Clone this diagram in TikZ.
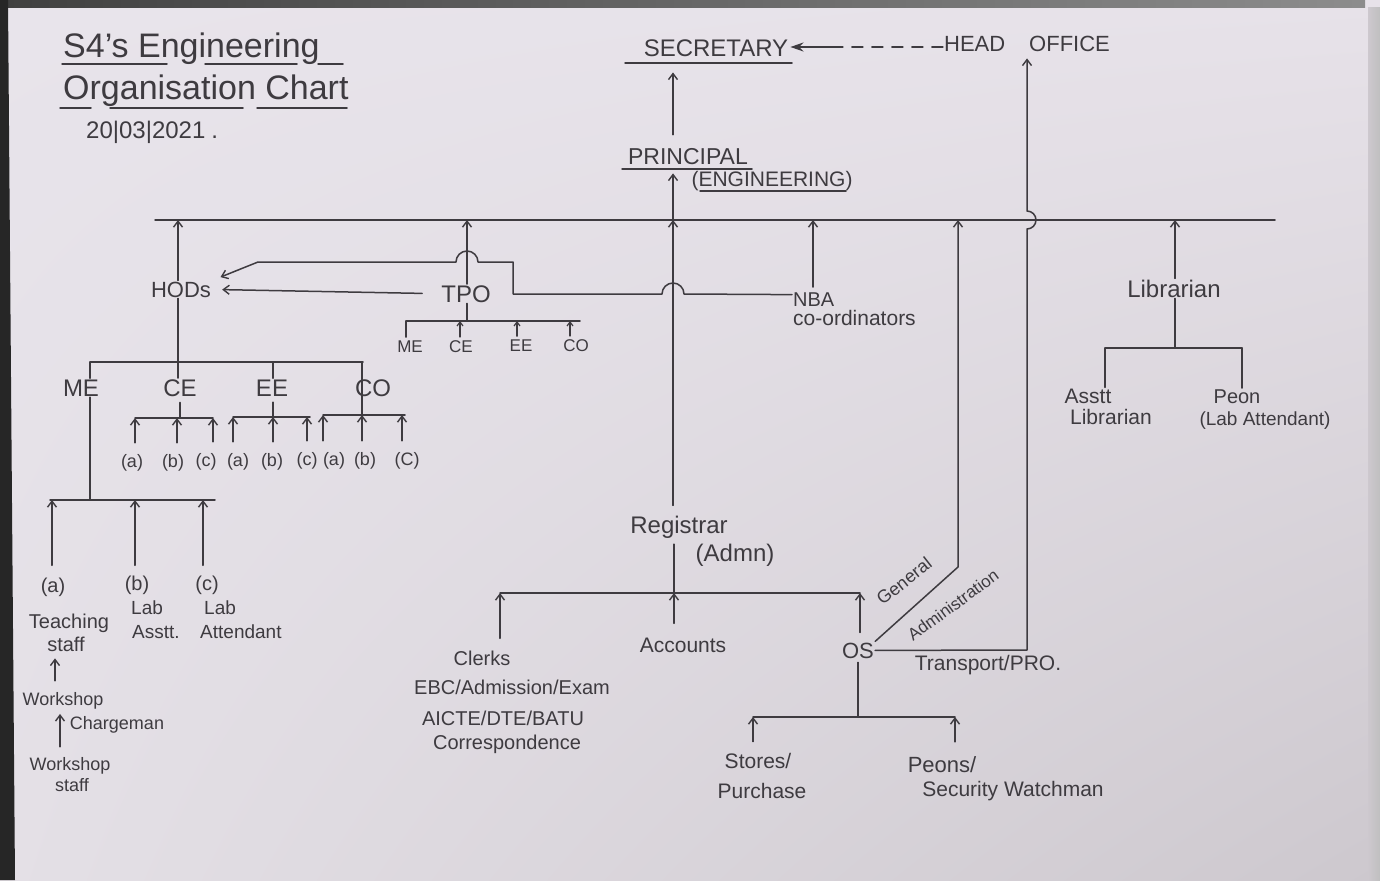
\documentclass[tikz,border=0pt]{standalone}
\usepackage{fontspec}
\setmainfont{Liberation Sans}
\usetikzlibrary{arrows.meta,calc,shadings}
\definecolor{ink}{HTML}{3E3B40}
\definecolor{paperA}{HTML}{E8E4EB}
\definecolor{paperB}{HTML}{E7E2E9}
\definecolor{paperC}{HTML}{E4E0E6}
\definecolor{paperD}{HTML}{CDC8CE}
\newcommand{\myfs}[1]{\fontsize{#1}{#1}\selectfont}
\begin{document}
\begin{tikzpicture}[x=1pt,y=-1pt,
  ln/.style={draw=ink,line width=1.5pt,line cap=round,line join=round},
  arr/.style={ln,-{Straight Barb[length=6pt,width=9pt,line width=1.4pt]}},
  sarr/.style={ln,-{Straight Barb[length=4pt,width=6pt,line width=1.2pt]}},
  lbl/.style={text=ink,inner sep=1pt,align=center,font=\myfs{20}},
]
\useasboundingbox (0,0) rectangle (1380,880);
% paper and photo edges
\shade[upper left=paperA, upper right=paperB, lower left=paperC, lower right=paperD] (0,0) rectangle (1380,880);
\shade[left color=black!75, right color=black!45] (0,0) rectangle (1365,8);
\shade[left color=paperD, right color=black!25] (1368,8) rectangle (1380,880);
\fill[black!85] (0,0) -- (8,0) -- (15,880) -- (0,880) -- cycle;

% ---------- title ----------
\node[lbl,anchor=base west,font=\myfs{34}] (title1) at (62,58) {S4's Engineering};
\node[lbl,anchor=base west,font=\myfs{34}] (title2) at (62,100) {Organisation Chart};
\node[lbl,anchor=base west,font=\myfs{24}] (date) at (85,138) {20|03|2021\hspace{6pt}.};
\draw[ln] (62,64) -- (167,64) (205,64) -- (297,64) (318,64) -- (343,64);
\draw[ln] (60,108) -- (91,108) (110,108) -- (243,108) (257,108) -- (347,108);

% ---------- top ----------
\node[lbl,anchor=base,font=\myfs{24}] (sec) at (716,57) {SECRETARY};
\node[lbl,anchor=base,font=\myfs{22}] (ho) at (1027,52) {HEAD\hspace{24pt}OFFICE};
\node[lbl,anchor=base,font=\myfs{23}] (prin) at (688,164) {PRINCIPAL};
\node[lbl,anchor=base,font=\myfs{21}] (eng) at (772,186) {(ENGINEERING)};
\draw[ln] (625,63) -- (792,63);
\draw[ln] (622,169) -- (752,169);
\draw[ln] (700,191) -- (846,191);

\coordinate (sk) at (838,47);
\draw[ln,dash pattern=on 11pt off 9pt] (ho.west |- sk) -- (sk);
\draw[ln,-{Stealth[length=13pt,width=9pt]},shorten >=1pt] (sk) -- (sec.east |- sk);

% ---------- main bus ----------
\coordinate (busL) at (155,220);
\coordinate (busR) at (1275,220);
\coordinate (bHod) at (178,220);
\coordinate (bTpo) at (467,220);
\coordinate (bPrin) at (673,220);
\coordinate (bNba) at (813,220);
\coordinate (bGen) at (958,220);
\coordinate (bLib) at (1175,220);
\draw[ln] (busL) -- (busR);
\draw[ln,line width=2.6pt] (922,220) -- (958,220);

\draw[arr,shorten <=12pt,shorten >=14pt] (prin.north -| bPrin) -- (sec.south -| bPrin);
\draw[arr,shorten >=8pt] (bPrin) -- (prin.south -| bPrin);

% ---------- HODs / TPO / NBA ----------
\node[lbl,anchor=base,font=\myfs{22}] (hods) at (181,297) {HODs};
\node[lbl,anchor=base,font=\myfs{24}] (tpo) at (466,302) {TPO};
\node[lbl,anchor=base west,font=\myfs{20}] (nba) at (792,306) {NBA};
\node[lbl,anchor=base west,font=\myfs{21}] (nbaco) at (792,325) {co-ordinators};

\draw[arr] (hods.north -| bHod) -- (bHod);
\draw[arr] (tpo.north -| bTpo) -- (bTpo);
\draw[arr,shorten <=4pt] (nba.north -| bNba) -- (bNba);

\draw[arr,shorten <=18pt,shorten >=10pt] (tpo.west) -- (hods.east);
\draw[arr,shorten >=9pt] ([yshift=4.5pt]nba.west) -- (684,294)
  arc[start angle=0,end angle=-180,radius=11] -- (513,294) -- (513,262) -- (478,262)
  arc[start angle=0,end angle=-180,radius=11] -- (258,262) -- (hods.north east);

% TPO branches
\coordinate (tB) at (467,321);
\coordinate (tb1) at (406,321);
\coordinate (tb2) at (460,321);
\coordinate (tb3) at (517,321);
\coordinate (tb4) at (570,321);
\node[lbl,anchor=base,font=\myfs{17}] (tme) at (410,352) {ME};
\node[lbl,anchor=base,font=\myfs{17}] (tce) at (461,352) {CE};
\node[lbl,anchor=base,font=\myfs{17}] (tee) at (521,351) {EE};
\node[lbl,anchor=base,font=\myfs{17}] (tco) at (576,351) {CO};
\draw[ln] (tpo.south -| tB) -- (tB);
\draw[ln] (tb1) -- (580,321);
\draw[ln,shorten <=2pt] (tb1 |- tme.north) -- (tb1);
\draw[sarr,shorten <=2pt] (tb2 |- tce.north) -- (tb2);
\draw[sarr,shorten <=2pt] (tb3 |- tee.north) -- (tb3);
\draw[sarr,shorten <=2pt] (tb4 |- tco.north) -- (tb4);

% ---------- departments ----------
\coordinate (dMe) at (90,362);
\coordinate (dCe) at (178,362);
\coordinate (dEe) at (273,362);
\coordinate (dCo) at (362,362);
\node[lbl,anchor=base,font=\myfs{24}] (me) at (81,396) {ME};
\node[lbl,anchor=base,font=\myfs{24}] (ce) at (180,396) {CE};
\node[lbl,anchor=base,font=\myfs{24}] (ee) at (272,396) {EE};
\node[lbl,anchor=base,font=\myfs{24}] (co) at (373,396) {CO};
\draw[ln] (hods.south -| dCe) -- (dCe);
\draw[ln] (dMe) -- (363,362);
\draw[ln] (dMe) -- (dMe |- me.north);
\draw[ln] (dCe) -- (dCe |- ce.north);
\draw[ln] (dEe) -- (dEe |- ee.north);

% CE sub
\coordinate (cB) at (180,418);
\coordinate (c1) at (135,418);
\coordinate (c2) at (177,418);
\coordinate (c3) at (213,418);
\node[lbl,anchor=base,font=\myfs{18}] (cea) at (132,467) {(a)};
\node[lbl,anchor=base,font=\myfs{18}] (ceb) at (173,467) {(b)};
\node[lbl,anchor=base,font=\myfs{18}] (cec) at (206,466) {(c)};
\draw[ln,shorten <=5pt] (ce.south -| cB) -- (cB);
\draw[ln] (c1) -- (c3);
\draw[arr,shorten <=10pt] (c1 |- cea.north) -- (c1);
\draw[arr,shorten <=10pt] (c2 |- ceb.north) -- (c2);
\draw[arr,shorten <=10pt] (c3 |- cec.north) -- (c3);

% EE sub
\coordinate (eB) at (273,417);
\coordinate (e1) at (233,417);
\coordinate (e3) at (307,417);
\node[lbl,anchor=base,font=\myfs{18}] (eea) at (238,466) {(a)};
\node[lbl,anchor=base,font=\myfs{18}] (eeb) at (272,466) {(b)};
\node[lbl,anchor=base,font=\myfs{18}] (eec) at (307,465) {(c)};
\draw[ln,shorten <=5pt] (ee.south -| eB) -- (eB);
\draw[ln] (e1) -- (310,417);
\draw[arr,shorten <=10pt] (e1 |- eea.north) -- (e1);
\draw[arr,shorten <=10pt] (eB |- eeb.north) -- (eB);
\draw[arr,shorten <=10pt] (e3 |- eec.north) -- (e3);

% CO sub
\coordinate (oB) at (362,415);
\coordinate (o1) at (323,415);
\coordinate (o3) at (402,415);
\node[lbl,anchor=base,font=\myfs{18}] (coa) at (334,465) {(a)};
\node[lbl,anchor=base,font=\myfs{18}] (cob) at (365,465) {(b)};
\node[lbl,anchor=base,font=\myfs{18}] (coc) at (407,465) {(C)};
\draw[ln] (dCo) -- (oB);
\draw[ln] (o1) -- (405,415);
\draw[arr,shorten <=10pt] (o1 |- coa.north) -- (o1);
\draw[arr,shorten <=10pt] (oB |- cob.north) -- (oB);
\draw[arr,shorten <=10pt] (o3 |- coc.north) -- (o3);

% ME sub
\coordinate (mB) at (90,500);
\coordinate (m1) at (52,500);
\coordinate (m2) at (135,500);
\coordinate (m3) at (203,500);
\node[lbl,anchor=base,font=\myfs{20}] (mea) at (53,592) {(a)};
\node[lbl,anchor=base,font=\myfs{20}] (meb) at (137,590) {(b)};
\node[lbl,anchor=base,font=\myfs{20}] (mec) at (207,590) {(c)};
\node[lbl,anchor=base,font=\myfs{20}] (teach) at (69,628) {Teaching};
\node[lbl,anchor=base,font=\myfs{20}] (staff) at (66,651) {staff};
\node[lbl,anchor=base west,font=\myfs{19}] (lab1) at (130,614) {Lab};
\node[lbl,anchor=base west,font=\myfs{19}] (asstt) at (131,638) {Asstt.};
\node[lbl,anchor=base west,font=\myfs{19}] (lab2) at (203,614) {Lab};
\node[lbl,anchor=base west,font=\myfs{19}] (attend) at (199,638) {Attendant};
\draw[ln] (me.south -| mB) -- (mB);
\draw[ln] (50,500) -- (215,500);
\draw[arr,shorten <=11pt] (m1 |- mea.north) -- (m1);
\draw[arr,shorten <=9pt] (m2 |- meb.north) -- (m2);
\draw[arr,shorten <=9pt] (m3 |- mec.north) -- (m3);

\node[lbl,anchor=base,font=\myfs{18}] (ws1) at (63,705) {Workshop};
\node[lbl,anchor=base,font=\myfs{18}] (charge) at (117,729) {Chargeman};
\node[lbl,anchor=base,font=\myfs{18}] (ws2) at (70,770) {Workshop};
\node[lbl,anchor=base,font=\myfs{18}] (ws3) at (72,791) {staff};
\draw[arr,shorten <=10pt,shorten >=6pt] ([xshift=-8pt]ws1.north) -- ([xshift=-11pt]staff.south);
\draw[arr,shorten <=9pt,shorten >=4pt] ([xshift=-10pt]ws2.north) -- ([xshift=-3pt]ws1.south);

% ---------- Librarian ----------
\coordinate (lB) at (1175,348);
\coordinate (lL) at (1105,348);
\coordinate (lR) at (1242,348);
\node[lbl,anchor=base,font=\myfs{24}] (lib) at (1174,297) {Librarian};
\node[lbl,anchor=base,font=\myfs{21}] (asst1) at (1088,403) {Asstt};
\node[lbl,anchor=base,font=\myfs{21}] (asst2) at (1111,424) {Librarian};
\node[lbl,anchor=base,font=\myfs{20}] (peon1) at (1237,403) {Peon};
\node[lbl,anchor=base,font=\myfs{19}] (peon2) at (1265,425) {(Lab Attendant)};
\draw[arr] (lib.north -| bLib) -- (bLib);
\draw[ln] (lib.south -| lB) -- (lB);
\draw[ln] (lL) -- (lR);
\draw[ln] (lL) -- (lL |- asst1.north);
\draw[ln] (lR) -- (lR |- peon1.north);

% ---------- Registrar ----------
\coordinate (aBus) at (674,593);
\coordinate (aL) at (500,593);
\coordinate (aR) at (860,593);
\node[lbl,anchor=base,font=\myfs{24}] (reg) at (679,533) {Registrar};
\node[lbl,anchor=base,font=\myfs{24}] (admn) at (735,561) {(Admn)};
\draw[arr,shorten <=9pt] (reg.north -| bPrin) -- (bPrin);
\draw[ln,shorten <=5pt] (reg.south -| aBus) -- (aBus);
\draw[ln] (aL) -- (aR);

\node[lbl,anchor=base,font=\myfs{20}] (clerks) at (482,665) {Clerks};
\node[lbl,anchor=base,font=\myfs{20}] (ebc) at (512,694) {EBC/Admission/Exam};
\node[lbl,anchor=base,font=\myfs{20}] (aicte) at (503,725) {AICTE/DTE/BATU};
\node[lbl,anchor=base,font=\myfs{20}] (corr) at (507,749) {Correspondence};
\node[lbl,anchor=base,font=\myfs{21}] (acc) at (683,652) {Accounts};
\node[lbl,anchor=base,font=\myfs{22}] (os) at (858,658) {OS};
\draw[arr,shorten <=11pt] (clerks.north -| aL) -- (aL);
\draw[arr,shorten <=13pt] (acc.north -| aBus) -- (aBus);
\draw[arr,shorten <=9pt] (os.north -| aR) -- (aR);

% General administration
\coordinate (gk) at (958,567);
\draw[arr] (os.north east) -- (gk) -- (bGen);
\node[lbl,font=\myfs{18},rotate=38] (gen) at (904,581) {General};
\node[lbl,font=\myfs{17},rotate=36] (adm) at (953,605) {Administration};

% Transport / PRO to Head office
\coordinate (tk) at (1027,650);
\node[lbl,anchor=base,font=\myfs{21}] (trans) at (988,670) {Transport/PRO.};
\draw[arr,shorten >=5pt] (os.east) -- (tk) -- (1027,229)
  arc[start angle=90,end angle=-90,radius=9] -- (ho.south -| tk);

% OS branches
\coordinate (sB) at (858,717);
\coordinate (s1) at (753,717);
\coordinate (s2) at (955,717);
\node[lbl,anchor=base,font=\myfs{21}] (st1) at (758,768) {Stores/};
\node[lbl,anchor=base,font=\myfs{21}] (st2) at (762,798) {Purchase};
\node[lbl,anchor=base,font=\myfs{22}] (pe1) at (942,772) {Peons/};
\node[lbl,anchor=base,font=\myfs{21}] (pe2) at (1013,796) {Security Watchman};
\draw[ln,shorten <=3pt] (os.south -| sB) -- (sB);
\draw[ln] (s1) -- (s2);
\draw[arr,shorten <=10pt] (s1 |- st1.north) -- (s1);
\draw[arr,shorten <=13pt] (s2 |- pe1.north) -- (s2);
\end{tikzpicture}
\end{document}
